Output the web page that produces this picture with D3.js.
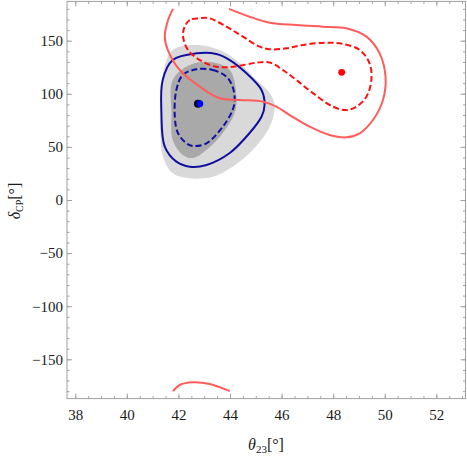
<!DOCTYPE html>
<html>
<head>
<meta charset="utf-8">
<style>
  body { margin: 0; background: #fff; }
</style>
</head>
<body>
<svg width="467" height="456"></svg>
<script src="https://cdn.jsdelivr.net/npm/d3@7"></script>
<script>
// ---- data (theta23 in degrees, deltaCP in degrees) ----
var xTicks = [38, 40, 42, 44, 46, 48, 50, 52];
var yTicks = [-150, -100, -50, 0, 50, 100, 150];

// outer (light grey) region
var regionOuter = [[42.63,145.9],[43.60,141.2],[44.38,129.0],[45.02,113.0],[45.54,100.8],[45.73,89.5],
  [45.54,69.0],[44.88,47.1],[44.10,31.4],[43.33,21.9],[42.44,20.4],[41.79,25.1],[41.40,40.8],
  [41.30,65.9],[41.34,97.3],[41.43,122.4],[41.78,141.2]];
// inner (dark grey) region
var regionInner = [[42.44,127.1],[43.21,129.9],[43.99,122.4],[44.25,97.3],[44.18,81.9],[43.72,63.1],
  [43.09,47.1],[42.55,39.5],[42.17,42.4],[41.78,56.5],[41.73,81.9],[41.78,113.0]];
// blue contours
var blueSolid = [[42.70,138.1],[43.47,137.5],[43.99,131.8],[44.64,119.3],[45.22,103.6],[45.34,89.5],
  [45.22,78.4],[44.76,63.1],[43.99,44.3],[43.09,33.0],[42.44,31.4],[41.92,36.1],[41.47,50.2],
  [41.34,81.9],[41.39,113.0],[41.78,131.8]];
var blueDashed = [[42.70,123.1],[43.33,122.4],[43.86,116.1],[44.10,106.7],[44.18,94.2],[44.10,84.7],
  [43.72,69.0],[43.09,53.4],[42.57,50.8],[42.31,53.4],[41.98,63.1],[41.86,78.4],[41.92,103.6],[42.17,117.7]];
// red contours (solid one wraps around deltaCP = +-180)
var redSolidTop = [[41.79,180],[41.60,169.5],[41.47,153.8],[41.59,141.2],[42.05,122.4],[42.83,106.7],
  [43.60,95.8],[44.38,94.2],[45.28,92.6],[45.80,87.9],[46.31,80.0],[47.09,69.0],[47.86,61.2],
  [48.51,59.0],[49.03,62.8],[49.54,75.3],[49.93,94.2],[50.03,116.1],[49.80,138.1],[49.29,153.8],
  [48.51,161.7],[47.60,163.2],[46.57,164.8],[45.54,166.9],[44.76,172.6],[43.96,180]];
var redSolidBottom = [[41.79,-180],[42.05,-174.2],[42.57,-171.7],[43.21,-173.3],[43.99,-180]];
var redDashed = [[42.83,171.1],[42.44,169.5],[42.24,163.2],[42.18,153.8],[42.37,141.2],[42.83,131.8],
  [43.47,125.5],[44.12,125.5],[45.02,129.3],[45.54,129.5],[46.05,122.4],[46.57,113.0],[47.22,100.5],
  [47.99,87.9],[48.51,84.7],[48.90,87.9],[49.29,97.3],[49.48,113.0],[49.41,128.7],[49.03,141.2],
  [48.38,146.9],[47.74,148.1],[46.83,146.0],[46.19,142.8],[45.54,141.9],[45.15,144.4],[44.50,153.8],
  [43.86,163.2],[43.21,171.1]];
// best fit points
var bestBlack = [42.76, 90.7];
var bestBlue = [42.83, 90.7];
var bestRed = [48.33, 120.2];

var svg = d3.select("svg"),
    pLeft = 67, pRight = 465.5, pTop = 1.4, pBottom = 398.6,
    serif = "Liberation Serif";

var x = d3.scaleLinear().domain([37.68, 53.13]).range([pLeft, pRight]);
var y = d3.scaleLinear().domain([-187, 187]).range([pBottom, pTop]);

var lineClosed = d3.line().x(function(d) { return x(d[0]); }).y(function(d) { return y(d[1]); })
    .curve(d3.curveCatmullRomClosed.alpha(0.5));
var lineOpen = d3.line().x(function(d) { return x(d[0]); }).y(function(d) { return y(d[1]); })
    .curve(d3.curveCatmullRom.alpha(0.5));

var g = svg.append("g");

g.append("path").attr("d", lineClosed(regionOuter)).attr("fill", "#d9d9d9");
g.append("path").attr("d", lineClosed(regionInner)).attr("fill", "#a9a9a9");

g.append("path").attr("d", lineClosed(blueSolid)).attr("fill", "none")
  .attr("stroke", "#1010a0").attr("stroke-width", 2);
g.append("path").attr("d", lineClosed(blueDashed)).attr("fill", "none")
  .attr("stroke", "#1010a0").attr("stroke-width", 2).attr("stroke-dasharray", "6,3");

[redSolidTop, redSolidBottom].forEach(function(c) {
  g.append("path").attr("d", lineOpen(c)).attr("fill", "none")
    .attr("stroke", "#ff5c5c").attr("stroke-width", 2);
});
g.append("path").attr("d", lineClosed(redDashed)).attr("fill", "none")
  .attr("stroke", "#ff1010").attr("stroke-width", 2).attr("stroke-dasharray", "6,3");

g.append("circle").attr("cx", x(bestBlack[0])).attr("cy", y(bestBlack[1])).attr("r", 4).attr("fill", "#000");
g.append("circle").attr("cx", x(bestBlue[0])).attr("cy", y(bestBlue[1])).attr("r", 3.4).attr("fill", "#0000ff");
g.append("circle").attr("cx", x(bestRed[0])).attr("cy", y(bestRed[1])).attr("r", 3.4).attr("fill", "#ff0000");

// frame + ticks (inward)
var minorX = d3.range(38, 53.01, 0.5), minorY = d3.range(-180, 181, 10);
function ticks(axis, tr, major, minor, labels) {
  var sc = major === xTicks ? x : y;
  var a = svg.append("g").attr("class", "axis").attr("transform", tr)
    .call(axis(sc).tickValues(minor).tickSize(-2.5).tickFormat(""));
  a.select(".domain").remove();
  var b = svg.append("g").attr("class", "axis").attr("transform", tr)
    .call(axis(sc).tickValues(major).tickSize(-5).tickPadding(major === xTicks ? 11 : 4)
      .tickFormat(labels ? function(d) { return d < 0 ? "\u2212" + (-d) : d; } : ""));
  b.select(".domain").remove();
  b.attr("font-family", serif);
}
ticks(d3.axisBottom, "translate(0," + pBottom + ")", xTicks, minorX, true);
ticks(d3.axisTop, "translate(0," + pTop + ")", xTicks, minorX, false);
ticks(d3.axisLeft, "translate(" + pLeft + ",0)", yTicks, minorY, true);
ticks(d3.axisRight, "translate(" + pRight + ",0)", yTicks, minorY, false);
svg.selectAll(".axis line").attr("stroke", "#a0a0a0");
svg.selectAll(".axis text").attr("font-size", 15).attr("fill", "#1a1a1a");

svg.append("rect").attr("x", pLeft).attr("y", pTop).attr("width", pRight - pLeft).attr("height", pBottom - pTop)
  .attr("fill", "none").attr("stroke", "#a0a0a0").attr("stroke-width", 1);

// axis titles
var xt = svg.append("text").attr("x", 266).attr("y", 450).attr("text-anchor", "middle")
  .attr("font-family", serif).attr("font-size", 16).attr("fill", "#1a1a1a");
xt.append("tspan").attr("font-style", "italic").text("θ");
xt.append("tspan").attr("font-size", 11).attr("dy", 3).text("23");
xt.append("tspan").attr("dy", -3).text("[°]");

var yt = svg.append("text").attr("transform", "translate(20,201) rotate(-90)").attr("text-anchor", "middle")
  .attr("font-family", serif).attr("font-size", 16).attr("fill", "#1a1a1a");
yt.append("tspan").attr("font-style", "italic").text("δ");
yt.append("tspan").attr("font-size", 10).attr("dy", 3).text("CP");
yt.append("tspan").attr("dy", -3).text("[°]");
</script>
</body>
</html>
